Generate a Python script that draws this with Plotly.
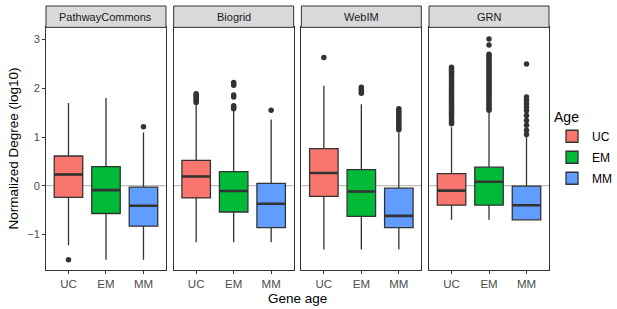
import plotly.graph_objects as go

panels = ["PathwayCommons", "Biogrid", "WebIM", "GRN"]
ages = ["UC", "EM", "MM"]
age_colors = ["#F8766D", "#00BA38", "#619CFF"]

# per panel: [UC, EM, MM]
lower_whisker = [[-1.22, -1.52, -1.52], [-1.16, -1.16, -1.16], [-1.31, -1.31, -1.31], [-0.70, -0.70, -0.70]]
q1_vals = [[-0.24, -0.57, -0.83], [-0.25, -0.54, -0.86], [-0.22, -0.63, -0.86], [-0.40, -0.40, -0.70]]
median_vals = [[0.23, -0.09, -0.41], [0.19, -0.11, -0.37], [0.26, -0.12, -0.62], [-0.10, 0.08, -0.40]]
q3_vals = [[0.61, 0.39, -0.03], [0.52, 0.29, 0.05], [0.76, 0.33, -0.05], [0.25, 0.38, -0.01]]
upper_whisker = [[1.70, 1.80, 1.09], [1.67, 1.55, 1.36], [2.05, 1.67, 1.09], [1.20, 1.50, 1.00]]

outliers = [
    [[-1.52], [], [1.21]],
    [[1.89, 1.86, 1.83, 1.80, 1.77, 1.74, 1.71],
     [2.12, 2.09, 2.06, 1.86, 1.82, 1.64, 1.61, 1.58],
     [1.55]],
    [[2.63],
     [2.02, 1.98, 1.94, 1.90],
     [1.58, 1.54, 1.50, 1.46, 1.42, 1.38, 1.34, 1.30, 1.26, 1.22, 1.18, 1.15]],
    [[2.43, 2.39, 2.35, 2.31, 2.27, 2.23, 2.19, 2.15, 2.11, 2.07, 2.03, 1.99, 1.95, 1.91,
      1.87, 1.83, 1.79, 1.75, 1.71, 1.67, 1.63, 1.59, 1.55, 1.51, 1.47, 1.43, 1.39, 1.35, 1.31, 1.27],
     [3.01, 2.89, 2.70, 2.66, 2.62, 2.58, 2.54, 2.50, 2.46, 2.42, 2.38, 2.34, 2.30, 2.26, 2.22,
      2.18, 2.14, 2.10, 2.06, 2.02, 1.98, 1.94, 1.90, 1.86, 1.82, 1.78, 1.74, 1.70, 1.66, 1.62, 1.58, 1.55],
     [2.50, 1.82, 1.75, 1.68, 1.61, 1.54, 1.44, 1.34, 1.24, 1.14, 1.05]],
]

y_ticks = [-1, 0, 1, 2, 3]
y_range = [-1.73, 3.25]

BOX_W = 0.76
LINE_C = "#333333"
FONT = "Liberation Sans, Arial, sans-serif"

fig = go.Figure()

n = len(panels)
gap = 0.0153
pw = (1 - gap * (n - 1)) / n
y_top = 0.919

for p in range(n):
    xa = "x" if p == 0 else f"x{p+1}"
    ya = "y" if p == 0 else f"y{p+1}"
    for a in range(len(ages)):
        fig.add_trace(go.Box(
            x=[a], q1=[q1_vals[p][a]], median=[median_vals[p][a]], q3=[q3_vals[p][a]],
            lowerfence=[lower_whisker[p][a]], upperfence=[upper_whisker[p][a]],
            width=BOX_W, whiskerwidth=0, fillcolor=age_colors[a],
            line=dict(color=LINE_C, width=1.3), boxpoints=False,
            name=ages[a], legendgroup=ages[a], showlegend=(p == 0),
            xaxis=xa, yaxis=ya, hoverinfo="skip",
        ))
        fig.add_trace(go.Scatter(
            x=[a - BOX_W / 2, a + BOX_W / 2], y=[median_vals[p][a]] * 2,
            mode="lines", line=dict(color=LINE_C, width=2.6),
            showlegend=False, xaxis=xa, yaxis=ya, hoverinfo="skip",
        ))
        if outliers[p][a]:
            fig.add_trace(go.Scatter(
                x=[a] * len(outliers[p][a]), y=outliers[p][a], mode="markers",
                marker=dict(color=LINE_C, size=5.5), showlegend=False,
                xaxis=xa, yaxis=ya, hoverinfo="skip",
            ))
    x0 = p * (pw + gap)
    axis_common = dict(showline=True, mirror=True, linecolor=LINE_C, linewidth=1,
                       showgrid=False, zeroline=False, ticklen=3,
                       tickcolor=LINE_C, tickwidth=1)
    fig.layout[f"xaxis{'' if p == 0 else p+1}"] = dict(
        domain=[x0, x0 + pw], anchor=ya, range=[-0.6, 2.6], ticks="outside",
        tickvals=list(range(len(ages))), ticktext=ages,
        tickfont=dict(size=11.5, color="#4D4D4D", family=FONT), **axis_common)
    fig.layout[f"yaxis{'' if p == 0 else p+1}"] = dict(
        domain=[0, y_top], anchor=xa, range=y_range, tickvals=y_ticks,
        ticktext=[("\u2212" + str(-v)) if v < 0 else str(v) for v in y_ticks],
        showticklabels=(p == 0), ticks="outside" if p == 0 else "",
        tickfont=dict(size=11, color="#4D4D4D", family=FONT), **axis_common)
    # reference line at zero
    fig.add_shape(type="line", xref=f"{xa} domain", yref=ya, x0=0, x1=1, y0=0, y1=0,
                  line=dict(color="#BEBEBE", width=1.2), layer="below")
    # strip
    fig.add_shape(type="rect", xref=f"{xa} domain", yref="paper", x0=0, x1=1,
                  y0=y_top, y1=1.0, fillcolor="#D9D9D9", line=dict(color=LINE_C, width=1))
    fig.add_annotation(text=panels[p], xref=f"{xa} domain", yref="paper", x=0.5,
                       y=(y_top + 1) / 2, showarrow=False, xanchor="center", yanchor="middle",
                       font=dict(size=11, color="#1A1A1A", family=FONT))

fig.add_annotation(text="Normalized Degree (log10)", xref="paper", yref="paper",
                   x=-0.064, y=y_top / 2, textangle=-90, showarrow=False,
                   xanchor="center", yanchor="middle", font=dict(size=13.5, color="black", family=FONT))
fig.add_annotation(text="Gene age", xref="paper", yref="paper", x=0.5, y=-0.107,
                   showarrow=False, xanchor="center", yanchor="middle",
                   font=dict(size=13.5, color="black", family=FONT))

fig.update_layout(
    width=617, height=309, margin=dict(l=46, r=68, t=6, b=39, autoexpand=False),
    paper_bgcolor="white", plot_bgcolor="white", boxmode="overlay",
    showlegend=True,
    legend=dict(title=dict(text="Age", font=dict(size=14, color="black", family=FONT)),
                font=dict(size=12, color="black", family=FONT),
                x=1.006, xanchor="left", y=0.46, yanchor="middle", itemwidth=30,
                bgcolor="rgba(0,0,0,0)", tracegroupgap=2),
    font=dict(family=FONT),
)

fig.write_html("out.html", config={"displayModeBar": False},
               post_script="document.body.style.margin='0';")
